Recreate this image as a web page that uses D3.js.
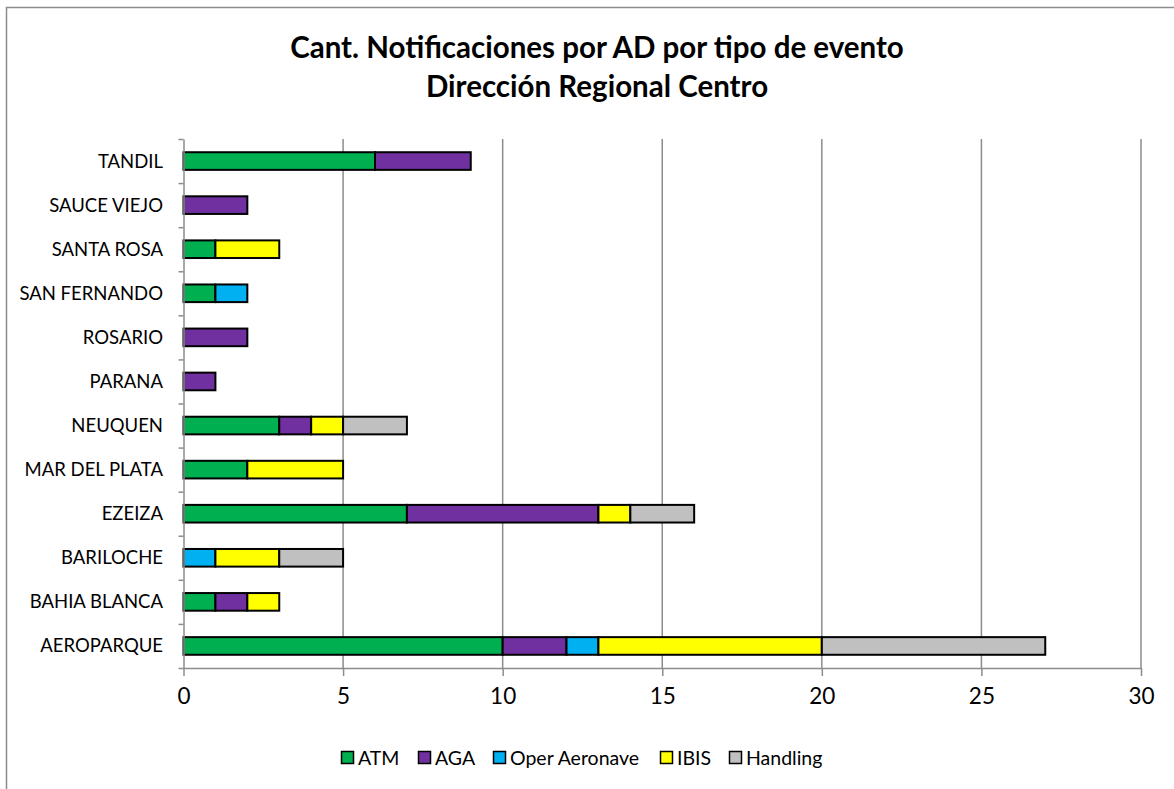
<!DOCTYPE html>
<html>
<head>
<meta charset="utf-8">
<script src="https://cdn.jsdelivr.net/npm/d3@7"></script>
<style>
  body { margin: 0; background: #fff; }
  svg { display: block; font-family: Lato, "Open Sans", sans-serif; }
</style>
</head>
<body>
<div id="chart"></div>
<script>
// data, bottom category first (as Excel draws it)
const airports = ['AEROPARQUE', 'BAHIA BLANCA', 'BARILOCHE', 'EZEIZA', 'MAR DEL PLATA', 'NEUQUEN',
                  'PARANA', 'ROSARIO', 'SAN FERNANDO', 'SANTA ROSA', 'SAUCE VIEJO', 'TANDIL'];
const seriesNames = ['ATM', 'AGA', 'Oper Aeronave', 'IBIS', 'Handling'];
const atm      = [10, 1, 0, 7, 2, 3, 0, 0, 1, 1, 0, 6];
const aga      = [2, 1, 0, 6, 0, 1, 1, 2, 0, 0, 2, 3];
const oper     = [1, 0, 1, 0, 0, 0, 0, 0, 1, 0, 0, 0];
const ibis     = [7, 1, 2, 1, 3, 1, 0, 0, 0, 2, 0, 0];
const handling = [7, 0, 2, 2, 0, 2, 0, 0, 0, 0, 0, 0];
const xTicks = [0, 5, 10, 15, 20, 25, 30];
const colors = ['#00B050', '#7030A0', '#00B0F0', '#FFFF00', '#C0C0C0'];

const width = 1174;
const height = 789;
const plotLeft = 183.5, plotRight = 1141, plotTop = 139, plotBottom = 668;

const table = airports.map((name, i) => ({
  name: name,
  'ATM': atm[i], 'AGA': aga[i], 'Oper Aeronave': oper[i], 'IBIS': ibis[i], 'Handling': handling[i]
}));
const stacked = d3.stack().keys(seriesNames)(table);

const xScale = d3.scaleLinear().domain([0, 30]).range([plotLeft, plotRight]);
const yBand = d3.scaleBand()
                .domain(airports.slice().reverse())
                .range([plotTop, plotBottom])
                .paddingInner(0.6)
                .paddingOuter(0.3);
const yEdge = d3.scaleLinear().domain([0, airports.length]).range([plotBottom, plotTop]);

const svg = d3.select('#chart').append('svg')
  .attr('width', width)
  .attr('height', height);

// chart area border (cut off at right and bottom)
svg.append('rect')
  .attr('x', 6.5).attr('y', 7.5)
  .attr('width', 1200).attr('height', 800)
  .attr('fill', '#fff')
  .attr('stroke', '#8c8c8c')
  .attr('stroke-width', 1.5);

// title
const title = svg.append('text')
  .attr('text-anchor', 'middle')
  .attr('font-weight', 'bold')
  .attr('font-size', 29.5)
  .attr('fill', '#000');
title.append('tspan').attr('x', 597).attr('y', 58).text('Cant. Notificaciones por AD por tipo de evento');
title.append('tspan').attr('x', 597).attr('y', 97).text('Dirección Regional Centro');

// vertical gridlines
svg.append('g')
  .selectAll('line')
  .data(xTicks.filter(d => d > 0))
  .join('line')
    .attr('x1', d => xScale(d)).attr('x2', d => xScale(d))
    .attr('y1', plotTop).attr('y2', plotBottom)
    .attr('stroke', '#8c8c8c')
    .attr('stroke-width', 1.5);

// bars
svg.append('g')
  .selectAll('g')
  .data(stacked)
  .join('g')
    .attr('fill', (d, i) => colors[i])
  .selectAll('rect')
  .data(d => d.filter(s => s[1] > s[0]))
  .join('rect')
    .attr('x', d => xScale(d[0]))
    .attr('y', d => yBand(d.data.name))
    .attr('width', d => xScale(d[1]) - xScale(d[0]))
    .attr('height', yBand.bandwidth())
    .attr('stroke', '#000')
    .attr('stroke-width', 2);

// x axis
const xAxis = svg.append('g')
  .attr('transform', `translate(0, ${plotBottom})`)
  .call(d3.axisBottom(xScale).tickValues(xTicks).tickSize(8).tickSizeOuter(0).tickPadding(12));
xAxis.select('.domain').attr('stroke', '#8c8c8c').attr('stroke-width', 1.5);
xAxis.selectAll('.tick line').attr('stroke', '#8c8c8c').attr('stroke-width', 1.5);
xAxis.selectAll('.tick text')
  .attr('font-family', 'Lato, "Open Sans", sans-serif')
  .attr('font-size', 22.5)
  .attr('fill', '#000');

// y axis: ticks at category edges, labels centred on bands
const yAxis = svg.append('g')
  .attr('transform', `translate(${plotLeft}, 0)`)
  .call(d3.axisLeft(yEdge).tickValues(d3.range(airports.length + 1)).tickSize(5).tickSizeOuter(0).tickFormat(''));
yAxis.select('.domain').attr('stroke', '#8c8c8c').attr('stroke-width', 1.5);
yAxis.selectAll('.tick line').attr('stroke', '#8c8c8c').attr('stroke-width', 1.5);

svg.append('g')
  .selectAll('text')
  .data(airports)
  .join('text')
    .attr('x', 163)
    .attr('y', d => yBand(d) + yBand.bandwidth() / 2)
    .attr('dy', '0.35em')
    .attr('text-anchor', 'end')
    .attr('font-size', 18.5)
    .attr('fill', '#000')
    .text(d => d);

// legend
const legendX = [341, 418, 493, 660, 729];
const legend = svg.append('g')
  .selectAll('g')
  .data(seriesNames)
  .join('g')
    .attr('transform', (d, i) => `translate(${legendX[i]}, 758)`);
legend.append('rect')
  .attr('x', 0.5).attr('y', -6.5)
  .attr('width', 12).attr('height', 12)
  .attr('fill', (d, i) => colors[i])
  .attr('stroke', '#000')
  .attr('stroke-width', 1.5);
legend.append('text')
  .attr('x', 17)
  .attr('y', 0)
  .attr('dy', '0.35em')
  .attr('font-size', 19.5)
  .attr('fill', '#000')
  .text(d => d);
</script>
</body>
</html>
